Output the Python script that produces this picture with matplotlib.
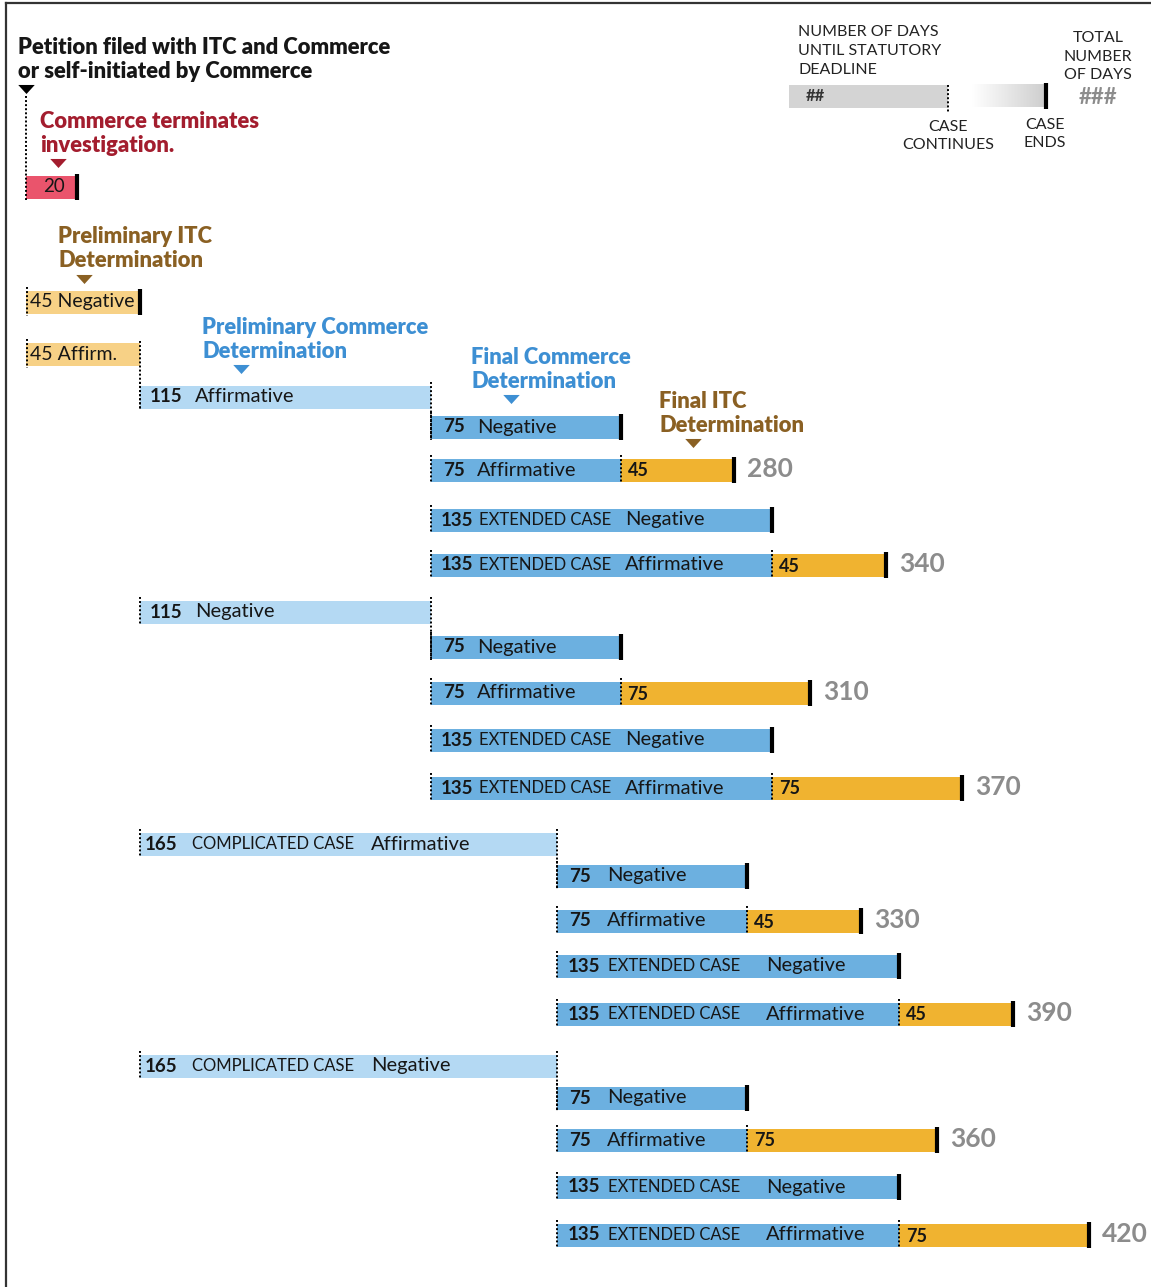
import matplotlib
matplotlib.use("Agg")
import matplotlib.pyplot as plt
import numpy as np

plt.rcParams['font.family'] = ['Lato', 'DejaVu Sans']

# data (days until statutory deadline)
terminate_days = 20
prelim_itc_days = 45
prelim_itc_labels = ['Negative', 'Affirm.']
prelim_commerce_days = [115, 115, 165, 165]
prelim_commerce_case = ['', '', 'COMPLICATED CASE', 'COMPLICATED CASE']
prelim_commerce_result = ['Affirmative', 'Negative', 'Affirmative', 'Negative']
final_commerce_days = [75, 75, 135, 135]
final_commerce_case = ['', '', 'EXTENDED CASE', 'EXTENDED CASE']
final_commerce_result = ['Negative', 'Affirmative', 'Negative', 'Affirmative']
final_itc_days = [45, 75, 45, 75]   # follows each preliminary commerce branch

# colours
RED = '#ea546c'
RED_TXT = '#a31d2e'
ITC_LIGHT = '#f7d186'
ITC_DARK = '#f0b330'
BROWN = '#8a6023'
BLUE_TXT = '#3d8fd3'
BLUE_LIGHT = '#b4d9f3'
BLUE = '#6cb0e0'
GRAY_TOT = '#8c8c8c'
INK = '#161616'

W, H = 1151, 1287
X0, K = 26, 2.53          # pixel of day 0, pixels per day


def px(xp):
    return (xp - X0) / K


fig = plt.figure(figsize=(W / 100, H / 100), dpi=100)
ax = fig.add_axes([0, 0, 1, 1])
ax.set_xlim(px(0), px(W))
ax.set_ylim(H, 0)
ax.axis('off')

BH = 23
LAB = 14.5   # bar label size
NUM = 13.5   # bar number size
CASE = 12    # small caps size


def dots(x, y0, y1):
    ax.vlines(x, y0, y1, colors='black', linestyles=(0, (1, 1.1)), lw=1.4)


def cap(x, y):
    ax.vlines(x, y - 13, y + 13, colors='black', lw=3, capstyle='butt')


def bar(start, days, y, color):
    ax.barh(y, days, left=start, height=BH, color=color, edgecolor='none')


def tri(xp, y, color, w=16):
    ax.scatter([px(xp)], [y], marker=[(-1, 0.55), (1, 0.55), (0, -0.55)],
               s=w * w * 0.55, color=color, linewidths=0, zorder=5)


def heading(xp, y, lines, color):
    ax.text(px(xp), y, lines, color=color, fontsize=15.8, fontweight='heavy',
            va='top', ha='left', linespacing=1.17)


# border
ax.plot([px(6), px(W)], [3, 3], color='#333333', lw=1.6, clip_on=False)
ax.plot([px(6), px(6)], [3, H], color='#333333', lw=1.6, clip_on=False)

# title
heading(18, 37, 'Petition filed with ITC and Commerce\nor self-initiated by Commerce', INK)
tri(26, 89, 'black')
dots(0, 96, 200)

# terminated
heading(40, 111, 'Commerce terminates\ninvestigation.', RED_TXT)
tri(58, 163, RED_TXT)
bar(0, terminate_days, 187, RED)
cap(terminate_days, 187)
ax.text(px(43), 187, str(terminate_days), fontsize=NUM, color=INK, va='center')

# preliminary ITC
heading(58, 226, 'Preliminary ITC\nDetermination', BROWN)
tri(84, 279, BROWN)
itc_rows = [302, 354]
for lab, y in zip(prelim_itc_labels, itc_rows):
    bar(0, prelim_itc_days, y, ITC_LIGHT)
    dots(0.3, y - 15, y + 14)
    ax.text(px(30), y, f'{prelim_itc_days} {lab}', fontsize=14, color=INK, va='center')
cap(prelim_itc_days, itc_rows[0])

heading(202, 317, 'Preliminary Commerce\nDetermination', BLUE_TXT)
tri(241, 369, BLUE_TXT)
heading(471, 347, 'Final Commerce\nDetermination', BLUE_TXT)
tri(511, 399, BLUE_TXT)
heading(659, 391, 'Final ITC\nDetermination', BROWN)
tri(693, 443, BROWN)

prelim_rows = [397, 612, 844, 1066]
final_rows = [[427, 470, 520, 565], [647, 693, 740, 788],
              [876, 921, 966, 1014], [1098, 1140, 1187, 1235]]

# dotted connector from "45 Affirm." to first preliminary commerce bar
dots(prelim_itc_days, itc_rows[1] - 13, prelim_rows[0] + 12)

for i in range(len(prelim_commerce_days)):
    y = prelim_rows[i]
    s = prelim_itc_days
    d = prelim_commerce_days[i]
    bar(s, d, y, BLUE_LIGHT)
    dots(s, y - 15, y + 13)
    dots(s + d, y - 15, final_rows[i][0] + 13)
    if prelim_commerce_case[i]:
        ax.text(s + px(X0 + 5), y, str(d), fontsize=NUM, fontweight='bold', color=INK, va='center')
        ax.text(s + px(X0 + 52), y, prelim_commerce_case[i], fontsize=CASE, color=INK, va='center')
        ax.text(s + px(X0 + 231), y, prelim_commerce_result[i], fontsize=LAB, color=INK, va='center')
    else:
        ax.text(s + px(X0 + 10), y, str(d), fontsize=NUM, fontweight='bold', color=INK, va='center')
        ax.text(s + px(X0 + 55), y, prelim_commerce_result[i], fontsize=LAB, color=INK, va='center')

    s2 = s + d
    late = d > 115
    for j in range(len(final_commerce_days)):
        yy = final_rows[i][j]
        fd = final_commerce_days[j]
        bar(s2, fd, yy, BLUE)
        dots(s2, yy - 15, yy + 13)
        if final_commerce_case[j]:
            ax.text(s2 + px(X0 + 10), yy, str(fd), fontsize=NUM, fontweight='bold', color=INK, va='center')
            ax.text(s2 + px(X0 + (51 if late else 48)), yy, final_commerce_case[j],
                    fontsize=CASE, color=INK, va='center')
            ax.text(s2 + px(X0 + (209 if late else 194)), yy, final_commerce_result[j],
                    fontsize=LAB, color=INK, va='center')
        else:
            ax.text(s2 + px(X0 + 12), yy, str(fd), fontsize=NUM, fontweight='bold', color=INK, va='center')
            ax.text(s2 + px(X0 + (50 if late else 46)), yy, final_commerce_result[j],
                    fontsize=LAB, color=INK, va='center')
        end = s2 + fd
        if final_commerce_result[j] == 'Affirmative':
            fi = final_itc_days[i]
            bar(end, fi, yy, ITC_DARK)
            dots(end, yy - 15, yy + 13)
            ax.text(end + px(X0 + 7), yy + 1, str(fi), fontsize=13, fontweight='bold',
                    color=INK, va='center')
            end = end + fi
            ax.text(end + px(X0 + 13), yy - 1, str(end), fontsize=19, fontweight='bold',
                    color=GRAY_TOT, va='center')
        cap(end, yy)

# key, top right
KEY = 11.5
ax.text(px(798), 25, 'NUMBER OF DAYS\nUNTIL STATUTORY\nDEADLINE', fontsize=KEY, color='#222222',
        va='top', ha='left', linespacing=1.45)
ax.barh(96, px(948) - px(789), left=px(789), height=BH, color='#d4d4d4', edgecolor='none')
ax.text(px(806), 96, '##', fontsize=12, fontweight='bold', color='#333333', va='center')
dots(px(948), 85, 112)
grad = np.linspace(0, 1, 256).reshape(1, -1)
ax.imshow(grad, cmap=matplotlib.colors.LinearSegmentedColormap.from_list('g', ['#ffffff', '#cfcfcf']),
          extent=(px(972), px(1044), 107.5, 84.5), aspect='auto', zorder=1)
cap(px(1046), 96)
ax.text(px(948), 120, 'CASE\nCONTINUES', fontsize=KEY, color='#222222', va='top', ha='center',
        linespacing=1.4)
ax.text(px(1045), 118, 'CASE\nENDS', fontsize=KEY, color='#222222', va='top', ha='center',
        linespacing=1.4)
ax.text(px(1098), 31, 'TOTAL\nNUMBER\nOF DAYS', fontsize=KEY, color='#222222', va='top', ha='center',
        linespacing=1.42)
ax.text(px(1098), 97, '###', fontsize=16, fontweight='bold', color=GRAY_TOT, va='center', ha='center')

ax.set_xlim(px(0), px(W))
ax.set_ylim(H, 0)
fig.savefig('out.png', dpi=100)
